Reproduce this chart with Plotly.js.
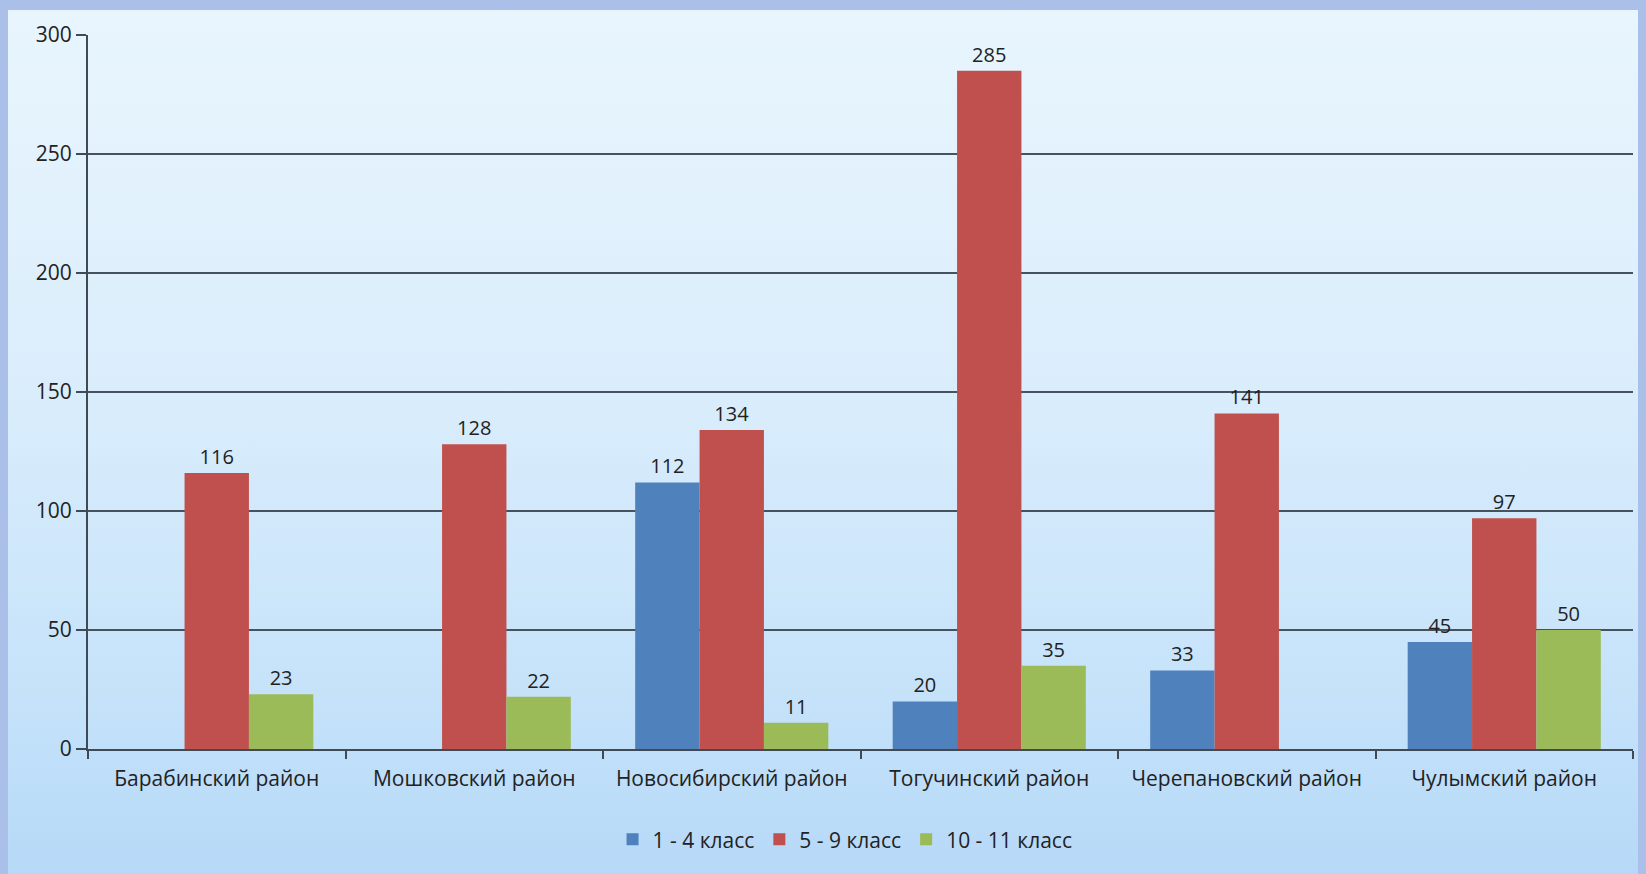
<!DOCTYPE html>
<html>
<head>
<meta charset="utf-8">
<script src="https://cdn.plot.ly/plotly-3.0.1.min.js"></script>
<style>
html,body{margin:0;padding:0;}
#wrap{position:relative;width:1646px;height:874px;background:#aac0e8;overflow:hidden;}
#panel{position:absolute;left:8px;top:10px;width:1630px;height:864px;
  background:linear-gradient(to bottom,#e8f5fd 0%,#dceefc 40%,#c8e4fa 75%,#b6d9f8 100%);}
#chart{position:absolute;left:0;top:0;width:1646px;height:874px;}
</style>
</head>
<body>
<div id="wrap"><div id="panel"></div><div id="chart"></div></div>
<script>
const categories = ["Барабинский район","Мошковский район","Новосибирский район","Тогучинский район","Черепановский район","Чулымский район"];
const seriesNames = ["1 - 4 класс","5 - 9 класс","10 - 11 класс"];
const grade1_4 = [null, null, 112, 20, 33, 45];
const grade5_9 = [116, 128, 134, 285, 141, 97];
const grade10_11 = [23, 22, 11, 35, null, 50];
const colors = ["#4f81bd","#c0504d","#9bbb59"];

const series = [grade1_4, grade5_9, grade10_11];
const traces = series.map((vals,i)=>({
  type:"bar",
  name:seriesNames[i],
  x:categories,
  y:vals,
  marker:{color:colors[i]},
  text:vals.map(v=>v===null?"":String(v)),
  textposition:"outside",
  cliponaxis:false,
  textfont:{size:20,color:"#222"},
  hoverinfo:"x+y+name"
}));

const layout = {
  width:1646,height:874,
  paper_bgcolor:"rgba(0,0,0,0)",
  plot_bgcolor:"rgba(0,0,0,0)",
  font:{family:"Open Sans, DejaVu Sans, sans-serif",size:21,color:"#222"},
  margin:{l:88,r:13,t:35,b:125},
  barmode:"group",
  bargap:0.25,
  bargroupgap:0,
  showlegend:true,
  legend:{orientation:"h",x:0.49,xanchor:"center",y:-0.127,yanchor:"middle",
    font:{size:21,color:"#222"},itemwidth:30,traceorder:"normal"},
  xaxis:{
    showline:true,linecolor:"#3f4a55",linewidth:2,
    ticks:"outside",tickson:"boundaries",ticklen:8,tickcolor:"#3f4a55",tickwidth:2,
    ticklabelstandoff:10,
    showgrid:false,tickfont:{size:21,color:"#222"}
  },
  yaxis:{
    range:[0,300],dtick:50,
    showline:true,linecolor:"#3f4a55",linewidth:2,
    ticks:"outside",ticklen:10,tickcolor:"#3f4a55",tickwidth:2,
    showgrid:true,gridcolor:"#46525e",gridwidth:2,
    zeroline:false,tickfont:{size:21,color:"#222"}
  }
};
Plotly.newPlot("chart",traces,layout,{displayModeBar:false,staticPlot:true});
</script>
</body>
</html>
